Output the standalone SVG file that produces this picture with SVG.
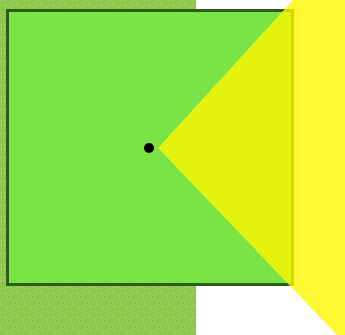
<svg xmlns="http://www.w3.org/2000/svg" width="345" height="335" viewBox="0 0 345 335">
  <defs>
    <pattern id="grass" width="12" height="12" patternUnits="userSpaceOnUse">
      <rect width="12" height="12" fill="#8fc64e"/>
      <rect x="0" y="0" width="6" height="6" fill="#95cc54"/>
      <rect x="6" y="6" width="6" height="6" fill="#95cc54"/>
      <rect x="2" y="2" width="2" height="2" fill="#88be48"/>
      <rect x="8" y="8" width="2" height="2" fill="#88be48"/>
    </pattern>
    <style>
      .field { fill: #7ae346; stroke: #2a5e17; stroke-width: 3; }
      .cone { fill: #fff600; fill-opacity: 0.8; }
      .dot { fill: #000000; }
    </style>
  </defs>
  <rect x="0" y="0" width="345" height="335" fill="#ffffff"/>
  <rect id="ground" x="0" y="0" width="196" height="335" fill="url(#grass)"/>
  <g id="field">
    <rect class="field" x="7.5" y="10.5" width="285" height="274"/>
  </g>
  <g id="cone">
    <polygon class="cone" points="158,148 293,0 345,0 345,335 337,335"/>
  </g>
  <g id="viewer">
    <circle class="dot" cx="149" cy="148" r="5"/>
  </g>
  <g id="connectors"/>
</svg>
